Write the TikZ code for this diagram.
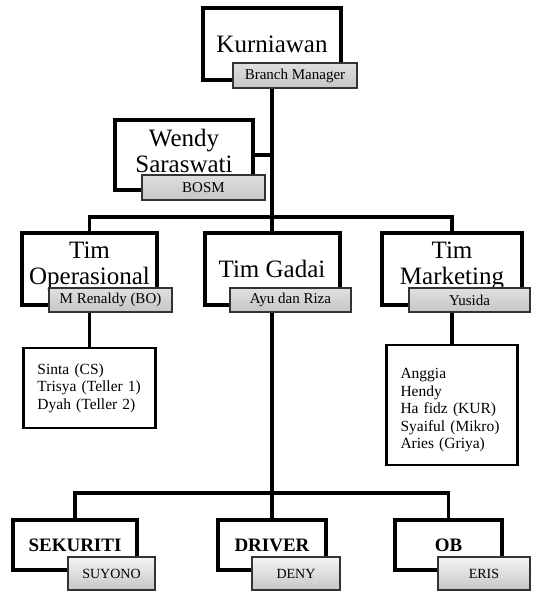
\documentclass[tikz,border=0pt]{standalone}
\usepackage{fontspec}
\setmainfont{Liberation Serif}
\usetikzlibrary{backgrounds}
\begin{document}
\begin{tikzpicture}[x=1pt,y=-1pt,
  boss/.style={draw,line width=4pt,fill=white,font=\fontsize{25}{27}\selectfont,align=center,inner sep=0pt},
  bossname/.style={font=\fontsize{25}{26}\selectfont,align=center,inner sep=0pt},
  tag/.style={draw=black!80,line width=2pt,top color=gray!25,bottom color=gray!45,font=\fontsize{15}{17}\selectfont,inner sep=0pt},
  crew/.style={draw,line width=2.5pt,fill=white,font=\fontsize{15.5}{17.5}\selectfont,align=left,inner xsep=14pt,inner ysep=0pt},
  staff/.style={draw,line width=3.3pt,fill=white,font=\fontsize{19}{21}\selectfont\bfseries,inner sep=0pt},
  stafftag/.style={draw=black!80,line width=2pt,top color=gray!8,bottom color=gray!45,font=\fontsize{14}{16}\selectfont,inner sep=0pt},
  link/.style={line width=3.5pt}]
\useasboundingbox (0,0) rectangle (534,592);
% pimpinan
\node[boss,minimum width=138pt,minimum height=72pt] (kur) at (272,44) {Kurniawan};
\node[tag,minimum width=124pt,minimum height=25pt] (bm) at (295,75.5) {Branch Manager};
\node[boss,minimum width=138pt,minimum height=70pt] (wendy) at (184,155) {};
\node[bossname] (wendyname) at (184,151) {Wendy\\Saraswati};
\node[tag,minimum width=123pt,minimum height=25pt] (bosm) at (203.5,187.5) {BOSM};
% tim
\node[boss,minimum width=135pt,minimum height=72pt] (ops) at (89.5,269) {};
\node[bossname] (opsname) at (89.5,266) {Tim\\Operasional};
\node[tag,minimum width=123pt,minimum height=24pt] (renaldy) at (110.5,300) {M Renaldy (BO)};
\node[boss,minimum width=135pt,minimum height=72pt] (gadai) at (272,269) {Tim Gadai};
\node[tag,minimum width=121pt,minimum height=24pt] (ayu) at (290.5,300) {Ayu dan Riza};
\node[boss,minimum width=140pt,minimum height=72pt] (mkt) at (452,269) {};
\node[bossname] (mktname) at (452,266) {Tim\\Marketing};
\node[tag,minimum width=121pt,minimum height=24pt] (yusida) at (469.5,300) {Yusida};
% anggota
\node[crew,text width=104pt,minimum height=80pt] (opslist) at (89.5,388)
  {Sinta (CS)\\Trisya (Teller 1)\\Dyah (Teller 2)};
\node[crew,text width=103pt,text height=21pt,minimum height=120pt] (mktlist) at (452,405)
  {Anggia\\Hendy\\Ha fidz (KUR)\\Syaiful (Mikro)\\Aries (Griya)};
% staf
\node[staff,minimum width=124pt,minimum height=50pt] (sek) at (75,545) {SEKURITI};
\node[stafftag,minimum width=87pt,minimum height=33pt] (suyono) at (111.5,573.5) {SUYONO};
\node[staff,minimum width=108pt,minimum height=50pt] (drv) at (272,545) {DRIVER};
\node[stafftag,minimum width=88pt,minimum height=33pt] (deny) at (296,573.5) {DENY};
\node[staff,minimum width=107pt,minimum height=50pt] (ob) at (448.5,545) {OB};
\node[stafftag,minimum width=92pt,minimum height=33pt] (eris) at (484,573.5) {ERIS};
\coordinate (top) at (272,217);
\coordinate (bot) at (272,493);
\begin{pgfonlayer}{background}
\draw[link] (kur) -- (drv);
\draw[link] (wendy.east) -- (wendy.east -| kur);
\draw[link] (ops) |- (top) -| (mkt);
\draw[link] (ops) -- (opslist);
\draw[link] (mkt) -- (mktlist);
\draw[link] (sek) |- (bot) -| (ob);
\end{pgfonlayer}
\end{tikzpicture}
\end{document}
